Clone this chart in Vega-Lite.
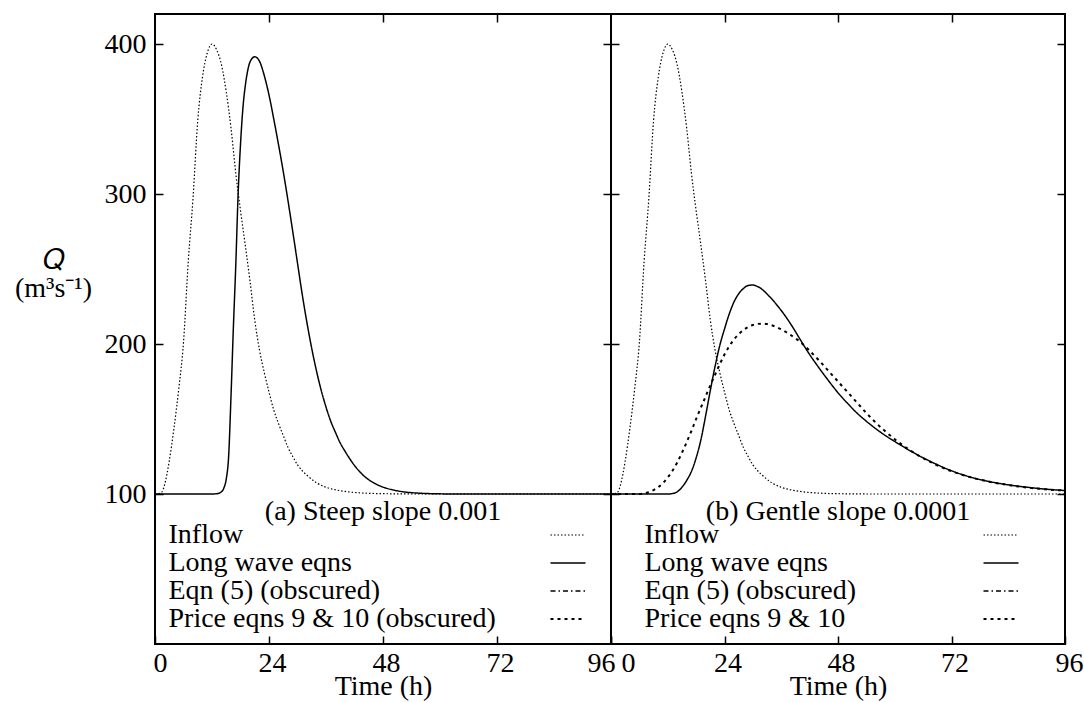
{
  "$schema": "https://vega.github.io/schema/vega-lite/v6.json",
  "background": "white",
  "padding": {"left": 13, "top": 12, "right": 2, "bottom": 1},
  "spacing": 0,
  "bounds": "flush",
  "resolve": {"scale": {"strokeDash": "independent", "strokeWidth": "independent"}},
  "datasets": {
    "a": [
      {"series": "Inflow", "t": 0, "Q": 100}, {"series": "Inflow", "t": 1, "Q": 100.5}, {"series": "Inflow", "t": 1.5, "Q": 101.5},
      {"series": "Inflow", "t": 2, "Q": 106}, {"series": "Inflow", "t": 3, "Q": 122}, {"series": "Inflow", "t": 4, "Q": 144},
      {"series": "Inflow", "t": 5, "Q": 170}, {"series": "Inflow", "t": 6, "Q": 201}, {"series": "Inflow", "t": 7, "Q": 255},
      {"series": "Inflow", "t": 8, "Q": 297}, {"series": "Inflow", "t": 9, "Q": 349}, {"series": "Inflow", "t": 10, "Q": 378},
      {"series": "Inflow", "t": 11, "Q": 394}, {"series": "Inflow", "t": 12, "Q": 400}, {"series": "Inflow", "t": 13, "Q": 396},
      {"series": "Inflow", "t": 14, "Q": 386}, {"series": "Inflow", "t": 15, "Q": 368}, {"series": "Inflow", "t": 16, "Q": 344},
      {"series": "Inflow", "t": 17, "Q": 314}, {"series": "Inflow", "t": 18, "Q": 289}, {"series": "Inflow", "t": 19, "Q": 266},
      {"series": "Inflow", "t": 20, "Q": 242}, {"series": "Inflow", "t": 21, "Q": 216}, {"series": "Inflow", "t": 22, "Q": 196},
      {"series": "Inflow", "t": 23, "Q": 181}, {"series": "Inflow", "t": 24, "Q": 168}, {"series": "Inflow", "t": 25, "Q": 156},
      {"series": "Inflow", "t": 26, "Q": 147}, {"series": "Inflow", "t": 27, "Q": 139}, {"series": "Inflow", "t": 28, "Q": 131},
      {"series": "Inflow", "t": 29, "Q": 125}, {"series": "Inflow", "t": 30, "Q": 119.5}, {"series": "Inflow", "t": 31, "Q": 115.5},
      {"series": "Inflow", "t": 32, "Q": 112.5}, {"series": "Inflow", "t": 34, "Q": 107.5}, {"series": "Inflow", "t": 36, "Q": 104.5},
      {"series": "Inflow", "t": 38, "Q": 102.8}, {"series": "Inflow", "t": 40, "Q": 101.7}, {"series": "Inflow", "t": 44, "Q": 100.6},
      {"series": "Inflow", "t": 48, "Q": 100.2}, {"series": "Inflow", "t": 56, "Q": 100}, {"series": "Inflow", "t": 96, "Q": 100},
      {"series": "Long wave eqns", "t": 0, "Q": 100}, {"series": "Long wave eqns", "t": 12, "Q": 100}, {"series": "Long wave eqns", "t": 13, "Q": 100.2},
      {"series": "Long wave eqns", "t": 14, "Q": 101.5}, {"series": "Long wave eqns", "t": 14.5, "Q": 104}, {"series": "Long wave eqns", "t": 15, "Q": 110},
      {"series": "Long wave eqns", "t": 15.5, "Q": 125}, {"series": "Long wave eqns", "t": 16, "Q": 165}, {"series": "Long wave eqns", "t": 16.5, "Q": 211},
      {"series": "Long wave eqns", "t": 17, "Q": 252}, {"series": "Long wave eqns", "t": 17.5, "Q": 300}, {"series": "Long wave eqns", "t": 18, "Q": 333},
      {"series": "Long wave eqns", "t": 18.5, "Q": 357}, {"series": "Long wave eqns", "t": 19, "Q": 372}, {"series": "Long wave eqns", "t": 19.5, "Q": 382},
      {"series": "Long wave eqns", "t": 20, "Q": 388}, {"series": "Long wave eqns", "t": 21, "Q": 391.5}, {"series": "Long wave eqns", "t": 22, "Q": 388.5},
      {"series": "Long wave eqns", "t": 23, "Q": 379}, {"series": "Long wave eqns", "t": 24, "Q": 366}, {"series": "Long wave eqns", "t": 25, "Q": 350},
      {"series": "Long wave eqns", "t": 26, "Q": 333}, {"series": "Long wave eqns", "t": 27, "Q": 315}, {"series": "Long wave eqns", "t": 28, "Q": 295.5},
      {"series": "Long wave eqns", "t": 29, "Q": 275}, {"series": "Long wave eqns", "t": 30, "Q": 254}, {"series": "Long wave eqns", "t": 31, "Q": 233},
      {"series": "Long wave eqns", "t": 32, "Q": 214}, {"series": "Long wave eqns", "t": 33, "Q": 197}, {"series": "Long wave eqns", "t": 34, "Q": 182},
      {"series": "Long wave eqns", "t": 35, "Q": 169}, {"series": "Long wave eqns", "t": 36, "Q": 158}, {"series": "Long wave eqns", "t": 37, "Q": 148.5},
      {"series": "Long wave eqns", "t": 38, "Q": 141}, {"series": "Long wave eqns", "t": 39, "Q": 134}, {"series": "Long wave eqns", "t": 40, "Q": 128.5},
      {"series": "Long wave eqns", "t": 41, "Q": 123.5}, {"series": "Long wave eqns", "t": 42, "Q": 119}, {"series": "Long wave eqns", "t": 44, "Q": 112},
      {"series": "Long wave eqns", "t": 46, "Q": 107.5}, {"series": "Long wave eqns", "t": 48, "Q": 104.6}, {"series": "Long wave eqns", "t": 50, "Q": 102.8},
      {"series": "Long wave eqns", "t": 52, "Q": 101.6}, {"series": "Long wave eqns", "t": 54, "Q": 100.9}, {"series": "Long wave eqns", "t": 56, "Q": 100.5},
      {"series": "Long wave eqns", "t": 60, "Q": 100.1}, {"series": "Long wave eqns", "t": 64, "Q": 100}, {"series": "Long wave eqns", "t": 96, "Q": 100}
    ],
    "b": [
      {"series": "Inflow", "t": 0, "Q": 100}, {"series": "Inflow", "t": 1, "Q": 100.5}, {"series": "Inflow", "t": 1.5, "Q": 101.5},
      {"series": "Inflow", "t": 2, "Q": 106}, {"series": "Inflow", "t": 3, "Q": 122}, {"series": "Inflow", "t": 4, "Q": 144},
      {"series": "Inflow", "t": 5, "Q": 170}, {"series": "Inflow", "t": 6, "Q": 201}, {"series": "Inflow", "t": 7, "Q": 255},
      {"series": "Inflow", "t": 8, "Q": 297}, {"series": "Inflow", "t": 9, "Q": 349}, {"series": "Inflow", "t": 10, "Q": 378},
      {"series": "Inflow", "t": 11, "Q": 394}, {"series": "Inflow", "t": 12, "Q": 400}, {"series": "Inflow", "t": 13, "Q": 396},
      {"series": "Inflow", "t": 14, "Q": 386}, {"series": "Inflow", "t": 15, "Q": 368}, {"series": "Inflow", "t": 16, "Q": 344},
      {"series": "Inflow", "t": 17, "Q": 314}, {"series": "Inflow", "t": 18, "Q": 289}, {"series": "Inflow", "t": 19, "Q": 266},
      {"series": "Inflow", "t": 20, "Q": 242}, {"series": "Inflow", "t": 21, "Q": 216}, {"series": "Inflow", "t": 22, "Q": 196},
      {"series": "Inflow", "t": 23, "Q": 181}, {"series": "Inflow", "t": 24, "Q": 168}, {"series": "Inflow", "t": 25, "Q": 156},
      {"series": "Inflow", "t": 26, "Q": 147}, {"series": "Inflow", "t": 27, "Q": 139}, {"series": "Inflow", "t": 28, "Q": 131},
      {"series": "Inflow", "t": 29, "Q": 125}, {"series": "Inflow", "t": 30, "Q": 119.5}, {"series": "Inflow", "t": 31, "Q": 115.5},
      {"series": "Inflow", "t": 32, "Q": 112.5}, {"series": "Inflow", "t": 34, "Q": 107.5}, {"series": "Inflow", "t": 36, "Q": 104.5},
      {"series": "Inflow", "t": 38, "Q": 102.8}, {"series": "Inflow", "t": 40, "Q": 101.7}, {"series": "Inflow", "t": 44, "Q": 100.6},
      {"series": "Inflow", "t": 48, "Q": 100.2}, {"series": "Inflow", "t": 56, "Q": 100}, {"series": "Inflow", "t": 96, "Q": 100},
      {"series": "Long wave eqns", "t": 0, "Q": 100}, {"series": "Long wave eqns", "t": 12, "Q": 100}, {"series": "Long wave eqns", "t": 13, "Q": 100.3},
      {"series": "Long wave eqns", "t": 14, "Q": 101.5}, {"series": "Long wave eqns", "t": 15, "Q": 104.5}, {"series": "Long wave eqns", "t": 16, "Q": 109},
      {"series": "Long wave eqns", "t": 17, "Q": 115}, {"series": "Long wave eqns", "t": 18, "Q": 124}, {"series": "Long wave eqns", "t": 19, "Q": 136},
      {"series": "Long wave eqns", "t": 20, "Q": 152}, {"series": "Long wave eqns", "t": 21, "Q": 169}, {"series": "Long wave eqns", "t": 22, "Q": 185},
      {"series": "Long wave eqns", "t": 23, "Q": 199}, {"series": "Long wave eqns", "t": 24, "Q": 210}, {"series": "Long wave eqns", "t": 25, "Q": 220},
      {"series": "Long wave eqns", "t": 26, "Q": 228}, {"series": "Long wave eqns", "t": 27, "Q": 233.5}, {"series": "Long wave eqns", "t": 28, "Q": 237},
      {"series": "Long wave eqns", "t": 29, "Q": 239}, {"series": "Long wave eqns", "t": 30, "Q": 239.3}, {"series": "Long wave eqns", "t": 31, "Q": 238.3},
      {"series": "Long wave eqns", "t": 32, "Q": 236.3}, {"series": "Long wave eqns", "t": 33, "Q": 233.3}, {"series": "Long wave eqns", "t": 34, "Q": 230},
      {"series": "Long wave eqns", "t": 35, "Q": 226.3}, {"series": "Long wave eqns", "t": 36, "Q": 222.3}, {"series": "Long wave eqns", "t": 37, "Q": 218},
      {"series": "Long wave eqns", "t": 38, "Q": 213.3}, {"series": "Long wave eqns", "t": 39, "Q": 208.3}, {"series": "Long wave eqns", "t": 40, "Q": 203},
      {"series": "Long wave eqns", "t": 42, "Q": 193}, {"series": "Long wave eqns", "t": 44, "Q": 184}, {"series": "Long wave eqns", "t": 46, "Q": 175.5},
      {"series": "Long wave eqns", "t": 48, "Q": 167.5}, {"series": "Long wave eqns", "t": 50, "Q": 160.5}, {"series": "Long wave eqns", "t": 52, "Q": 154},
      {"series": "Long wave eqns", "t": 54, "Q": 148.5}, {"series": "Long wave eqns", "t": 56, "Q": 143.5}, {"series": "Long wave eqns", "t": 58, "Q": 139},
      {"series": "Long wave eqns", "t": 60, "Q": 135}, {"series": "Long wave eqns", "t": 64, "Q": 127.5}, {"series": "Long wave eqns", "t": 68, "Q": 121},
      {"series": "Long wave eqns", "t": 72, "Q": 115.5}, {"series": "Long wave eqns", "t": 76, "Q": 111.3}, {"series": "Long wave eqns", "t": 80, "Q": 108.3},
      {"series": "Long wave eqns", "t": 84, "Q": 106.1}, {"series": "Long wave eqns", "t": 88, "Q": 104.5}, {"series": "Long wave eqns", "t": 92, "Q": 103.2},
      {"series": "Long wave eqns", "t": 96, "Q": 102.3},
      {"series": "Price eqns 9 & 10", "t": 0, "Q": 100}, {"series": "Price eqns 9 & 10", "t": 6, "Q": 100}, {"series": "Price eqns 9 & 10", "t": 7, "Q": 100.5},
      {"series": "Price eqns 9 & 10", "t": 8, "Q": 101.2}, {"series": "Price eqns 9 & 10", "t": 9, "Q": 102.6}, {"series": "Price eqns 9 & 10", "t": 10, "Q": 104.6},
      {"series": "Price eqns 9 & 10", "t": 11, "Q": 107.3}, {"series": "Price eqns 9 & 10", "t": 12, "Q": 111}, {"series": "Price eqns 9 & 10", "t": 13, "Q": 115.5},
      {"series": "Price eqns 9 & 10", "t": 14, "Q": 121}, {"series": "Price eqns 9 & 10", "t": 15, "Q": 127.5}, {"series": "Price eqns 9 & 10", "t": 16, "Q": 134.5},
      {"series": "Price eqns 9 & 10", "t": 17, "Q": 142}, {"series": "Price eqns 9 & 10", "t": 18, "Q": 150}, {"series": "Price eqns 9 & 10", "t": 19, "Q": 157.5},
      {"series": "Price eqns 9 & 10", "t": 20, "Q": 165}, {"series": "Price eqns 9 & 10", "t": 21, "Q": 172.5}, {"series": "Price eqns 9 & 10", "t": 22, "Q": 179.5},
      {"series": "Price eqns 9 & 10", "t": 23, "Q": 186.5}, {"series": "Price eqns 9 & 10", "t": 24, "Q": 193}, {"series": "Price eqns 9 & 10", "t": 25, "Q": 198.5},
      {"series": "Price eqns 9 & 10", "t": 26, "Q": 203}, {"series": "Price eqns 9 & 10", "t": 27, "Q": 206.5}, {"series": "Price eqns 9 & 10", "t": 28, "Q": 209.3},
      {"series": "Price eqns 9 & 10", "t": 29, "Q": 211.3}, {"series": "Price eqns 9 & 10", "t": 30, "Q": 212.7}, {"series": "Price eqns 9 & 10", "t": 31, "Q": 213.4},
      {"series": "Price eqns 9 & 10", "t": 32, "Q": 213.6}, {"series": "Price eqns 9 & 10", "t": 33, "Q": 213.3}, {"series": "Price eqns 9 & 10", "t": 34, "Q": 212.5},
      {"series": "Price eqns 9 & 10", "t": 35, "Q": 211.3}, {"series": "Price eqns 9 & 10", "t": 36, "Q": 209.8}, {"series": "Price eqns 9 & 10", "t": 37, "Q": 208},
      {"series": "Price eqns 9 & 10", "t": 38, "Q": 206}, {"series": "Price eqns 9 & 10", "t": 39, "Q": 203.8}, {"series": "Price eqns 9 & 10", "t": 40, "Q": 201.5},
      {"series": "Price eqns 9 & 10", "t": 42, "Q": 195.5}, {"series": "Price eqns 9 & 10", "t": 44, "Q": 189}, {"series": "Price eqns 9 & 10", "t": 46, "Q": 182},
      {"series": "Price eqns 9 & 10", "t": 48, "Q": 175}, {"series": "Price eqns 9 & 10", "t": 50, "Q": 168}, {"series": "Price eqns 9 & 10", "t": 52, "Q": 161},
      {"series": "Price eqns 9 & 10", "t": 54, "Q": 154}, {"series": "Price eqns 9 & 10", "t": 56, "Q": 147.5}, {"series": "Price eqns 9 & 10", "t": 58, "Q": 141.8},
      {"series": "Price eqns 9 & 10", "t": 60, "Q": 136.5}, {"series": "Price eqns 9 & 10", "t": 62, "Q": 131.8}, {"series": "Price eqns 9 & 10", "t": 64, "Q": 127.6},
      {"series": "Price eqns 9 & 10", "t": 68, "Q": 120.6}, {"series": "Price eqns 9 & 10", "t": 72, "Q": 115.2}, {"series": "Price eqns 9 & 10", "t": 76, "Q": 111.2},
      {"series": "Price eqns 9 & 10", "t": 80, "Q": 108.2}, {"series": "Price eqns 9 & 10", "t": 84, "Q": 106}, {"series": "Price eqns 9 & 10", "t": 88, "Q": 104.3},
      {"series": "Price eqns 9 & 10", "t": 92, "Q": 103.1}, {"series": "Price eqns 9 & 10", "t": 96, "Q": 102.3}
    ]
  },
  "hconcat": [
    {
      "width": 456,
      "height": 630,
      "data": {"name": "a"},
      "title": {"text": "(a) Steep slope 0.001", "orient": "top", "frame": "group", "anchor": "middle", "offset": -535, "baseline": "alphabetic"},
      "layer": [
        {
          "mark": {"type": "line", "interpolate": "monotone", "color": "black"},
          "encoding": {
            "x": {"field": "t", "type": "quantitative", "scale": {"domain": [0, 96], "nice": false, "zero": false},
              "axis": {"orient": "bottom", "values": [0, 24, 48, 72, 96], "title": "Time (h)", "labelFlush": false,
                "labelOffset": {"condition": [{"test": "datum.value == 96", "value": -10}, {"test": "datum.value == 0", "value": 5}], "value": 3}}},
            "y": {"field": "Q", "type": "quantitative", "scale": {"domain": [0, 420], "nice": false},
              "axis": {"orient": "left", "values": [100, 200, 300, 400], "title": ["𝑄", "(m³s⁻¹)"], "titleAngle": 0,
                "titleAlign": "center", "titleBaseline": "top", "titleX": -102, "titleY": 232, "titleLineHeight": 28}},
            "strokeDash": {"field": "series", "type": "ordinal",
              "scale": {"domain": ["Inflow", "Long wave eqns", "Eqn (5) (obscured)", "Price eqns 9 & 10 (obscured)"],
                "range": [[1.5, 2], [1, 0], [5, 3, 1.5, 3], [3, 4]]},
              "legend": {"title": null, "orient": "none", "legendX": 399, "legendY": 507, "labelOffset": -413.5}},
            "strokeWidth": {"field": "series", "type": "ordinal",
              "scale": {"domain": ["Inflow", "Long wave eqns", "Eqn (5) (obscured)", "Price eqns 9 & 10 (obscured)"],
                "range": [1.2, 2, 1.6, 1.8]},
              "legend": {"title": null, "orient": "none", "legendX": 399, "legendY": 507, "labelOffset": -413.5}}
          }
        },
        {
          "mark": {"type": "line", "opacity": 0},
          "encoding": {
            "x": {"field": "t", "type": "quantitative", "scale": {"domain": [0, 96], "nice": false, "zero": false},
              "axis": {"orient": "top", "values": [24, 48, 72], "labels": false, "title": null}},
            "y": {"field": "Q", "type": "quantitative", "scale": {"domain": [0, 420], "nice": false},
              "axis": {"orient": "right", "values": [100, 200, 300, 400], "labels": false, "title": null}}
          }
        }
      ],
      "resolve": {"scale": {"x": "independent", "y": "independent"}}
    },
    {
      "width": 454,
      "height": 630,
      "data": {"name": "b"},
      "title": {"text": "(b) Gentle slope 0.0001", "orient": "top", "frame": "group", "anchor": "middle", "offset": -535, "baseline": "alphabetic"},
      "layer": [
        {
          "mark": {"type": "line", "interpolate": "monotone", "color": "black"},
          "encoding": {
            "x": {"field": "t", "type": "quantitative", "scale": {"domain": [0, 96], "nice": false, "zero": false},
              "axis": {"orient": "bottom", "values": [0, 24, 48, 72, 96], "title": "Time (h)", "labelFlush": false,
                "labelOffset": {"condition": [{"test": "datum.value == 0", "value": 17}, {"test": "datum.value == 96", "value": 4}], "value": 3}}},
            "y": {"field": "Q", "type": "quantitative", "scale": {"domain": [0, 420], "nice": false},
              "axis": {"orient": "left", "values": [100, 200, 300, 400], "labels": false, "title": null}},
            "strokeDash": {"field": "series", "type": "ordinal",
              "scale": {"domain": ["Inflow", "Long wave eqns", "Eqn (5) (obscured)", "Price eqns 9 & 10"],
                "range": [[1.5, 2], [1, 0], [5, 3, 1.5, 3], [3, 4]]},
              "legend": {"title": null, "orient": "none", "legendX": 376, "legendY": 507, "labelOffset": -370.5}},
            "strokeWidth": {"field": "series", "type": "ordinal",
              "scale": {"domain": ["Inflow", "Long wave eqns", "Eqn (5) (obscured)", "Price eqns 9 & 10"],
                "range": [1.2, 2, 1.6, 1.8]},
              "legend": {"title": null, "orient": "none", "legendX": 376, "legendY": 507, "labelOffset": -370.5}}
          }
        },
        {
          "mark": {"type": "line", "opacity": 0},
          "encoding": {
            "x": {"field": "t", "type": "quantitative", "scale": {"domain": [0, 96], "nice": false, "zero": false},
              "axis": {"orient": "top", "values": [24, 48, 72], "labels": false, "title": null}},
            "y": {"field": "Q", "type": "quantitative", "scale": {"domain": [0, 420], "nice": false},
              "axis": {"orient": "right", "values": [100, 200, 300, 400], "labels": false, "title": null}}
          }
        }
      ],
      "resolve": {"scale": {"x": "independent", "y": "independent"}}
    }
  ],
  "config": {
    "font": "Liberation Serif",
    "view": {"stroke": "black", "strokeWidth": 2},
    "title": {"font": "Liberation Serif", "fontSize": 28, "fontWeight": "normal", "color": "black"},
    "axis": {
      "domain": false, "grid": false, "ticks": true, "tickSize": -8, "tickWidth": 1.5, "tickColor": "black",
      "labelFont": "Liberation Serif", "labelFontSize": 28, "labelColor": "black", "labelPadding": 17,
      "titleFont": "Liberation Serif", "titleFontSize": 28, "titleFontWeight": "normal", "titleColor": "black", "titlePadding": 0
    },
    "axisX": {"labelPadding": 13, "titlePadding": -5},
    "legend": {
      "labelFont": "Liberation Serif", "labelFontSize": 28, "labelColor": "black", "labelLimit": 800,
      "symbolType": "M-3.5,0H3.5", "symbolSize": 100, "symbolStrokeColor": "black", "symbolFillColor": "transparent",
      "rowPadding": 0, "padding": 0
    }
  }
}
